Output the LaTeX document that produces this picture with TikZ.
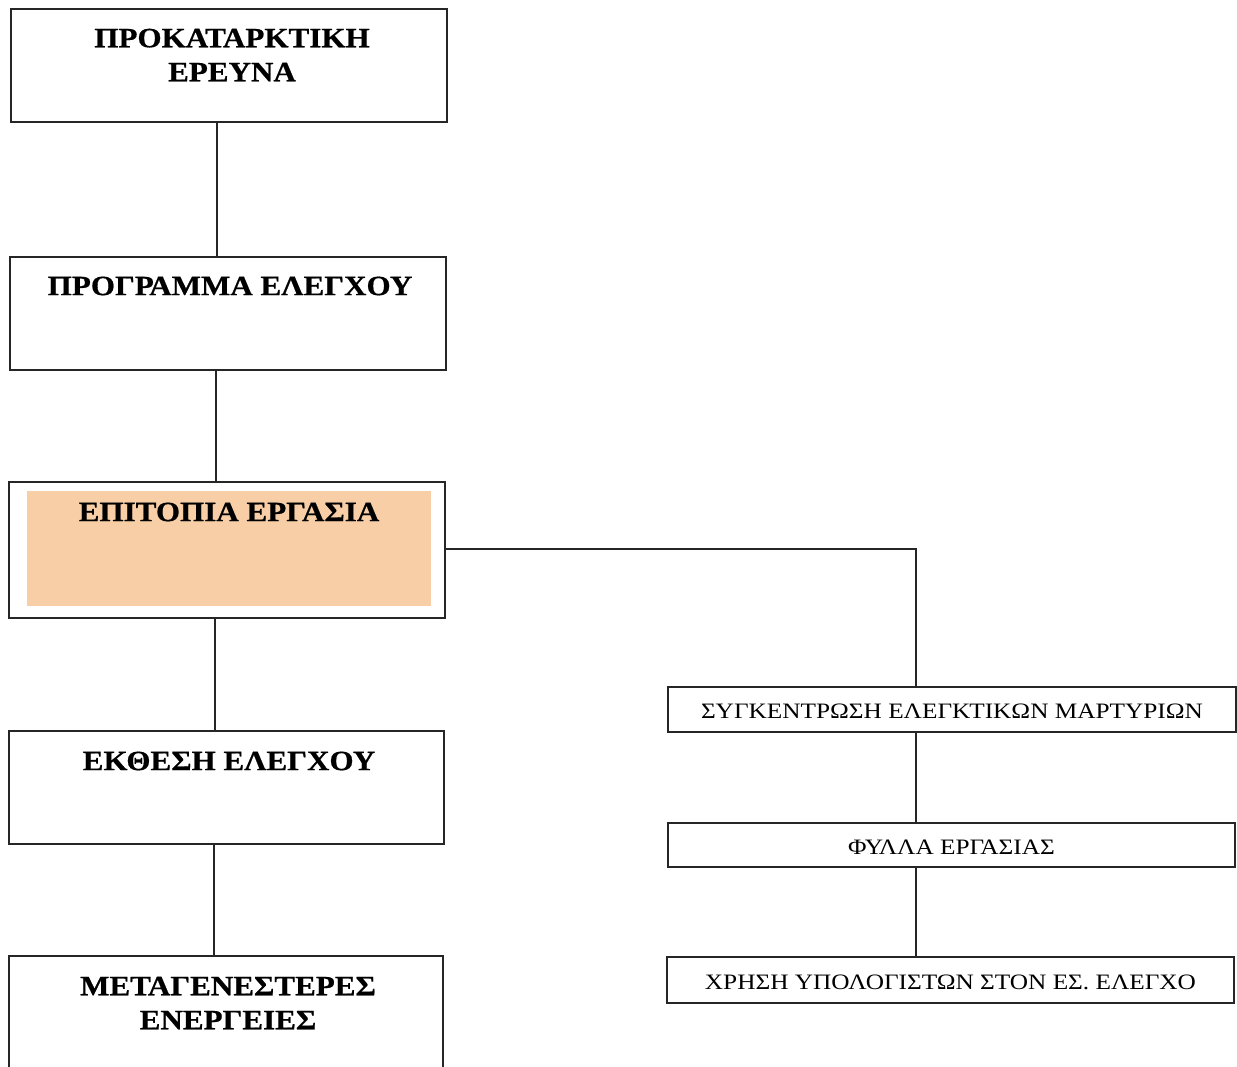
\documentclass[tikz,border=0pt]{standalone}
\usepackage{fontspec}
\setmainfont{Liberation Serif}
\newfontfamily\headfont[FakeStretch=1.11,FakeBold=0.6]{Liberation Serif Bold}
\newfontfamily\bodyfont[FakeStretch=1.15]{Liberation Serif}
\begin{document}
\begin{tikzpicture}[x=1pt,y=-1pt,
  box/.style={draw=black!85,line width=2pt,inner sep=0pt,anchor=north west},
  head/.style={font=\headfont\fontsize{28}{34}\selectfont,align=center,inner sep=0pt},
  plain/.style={font=\bodyfont\fontsize{22}{25}\selectfont,inner sep=0pt},
  link/.style={draw=black!85,line width=2pt}]
\clip (0,0) rectangle (1237,1066);
\fill[white] (0,0) rectangle (1237,1066);
% main column
\node[box,minimum width=436pt,minimum height=113pt] (b1) at (10,8) {};
\node[box,minimum width=436pt,minimum height=113pt] (b2) at (9,256) {};
\node[box,minimum width=436pt,minimum height=136pt] (b3) at (8,481) {};
\fill[fill={rgb,255:red,248;green,206;blue,166}] (27,491) rectangle (431,606);
\node[box,minimum width=435pt,minimum height=113pt] (b4) at (8,730) {};
\node[box,minimum width=434pt,minimum height=140pt] (b5) at (8,955) {};
\node[head] (t1) at (232,55) {ΠΡΟΚΑΤΑΡΚΤΙΚΗ\\ΕΡΕΥΝΑ};
\node[head] (t2) at (230,286) {ΠΡΟΓΡΑΜΜΑ ΕΛΕΓΧΟΥ};
\node[head] (t3) at (229,512) {ΕΠΙΤΟΠΙΑ ΕΡΓΑΣΙΑ};
\node[head] (t4) at (229,761) {ΕΚΘΕΣΗ ΕΛΕΓΧΟΥ};
\node[head] (t5) at (228,1003) {ΜΕΤΑΓΕΝΕΣΤΕΡΕΣ\\ΕΝΕΡΓΕΙΕΣ};
% side column
\node[box,minimum width=568pt,minimum height=45pt] (r1) at (667,686) {};
\node[box,minimum width=567pt,minimum height=44pt] (r2) at (667,822) {};
\node[box,minimum width=567pt,minimum height=46pt] (r3) at (666,956) {};
\node[plain] at ([yshift=-2pt]r1.center) {ΣΥΓΚΕΝΤΡΩΣΗ ΕΛΕΓΚΤΙΚΩΝ ΜΑΡΤΥΡΙΩΝ};
\node[plain] at ([yshift=-2pt]r2.center) {ΦΥΛΛΑ ΕΡΓΑΣΙΑΣ};
\node[plain] at ([yshift=-2pt]r3.center) {ΧΡΗΣΗ ΥΠΟΛΟΓΙΣΤΩΝ ΣΤΟΝ ΕΣ. ΕΛΕΓΧΟ};
% connectors
\coordinate (c1) at (217,0);
\coordinate (c2) at (216,0);
\coordinate (c3) at (215,0);
\coordinate (c4) at (214,0);
\coordinate (cr) at (916,549);
\path[link] (b1.south -| c1) -- (b2.north -| c1);
\path[link] (b2.south -| c2) -- (b3.north -| c2);
\path[link] (b3.south -| c3) -- (b4.north -| c3);
\path[link] (b4.south -| c4) -- (b5.north -| c4);
\path[link] (b3.east |- cr) -- (cr) -- (r1.north -| cr);
\path[link] (r1.south -| cr) -- (r2.north -| cr);
\path[link] (r2.south -| cr) -- (r3.north -| cr);
\end{tikzpicture}
\end{document}
